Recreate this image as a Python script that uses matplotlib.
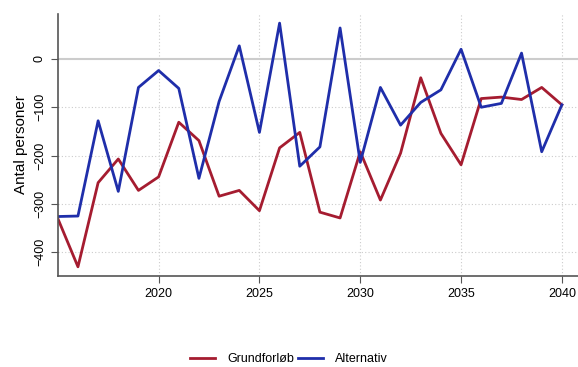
import numpy as np
import matplotlib
matplotlib.use('Agg')
import matplotlib.pyplot as plt

# Data
years = list(range(2015, 2041))
grundforloeb = [-330, -430, -256, -207, -272, -244, -131, -169, -284, -272,
                -314, -184, -152, -317, -329, -192, -292, -195, -39, -154,
                -219, -82, -79, -84, -59, -95]
alternativ = [-326, -325, -128, -274, -59, -24, -61, -247, -88, 27,
              -152, 74, -222, -182, 64, -214, -59, -137, -90, -64,
              20, -100, -92, 12, -192, -95]

red = '#A51C30'
blue = '#1F2EAA'

plt.rcParams['font.family'] = ['Liberation Sans', 'DejaVu Sans']

fig = plt.figure(figsize=(5.78, 3.67), dpi=100)
ax = fig.add_axes([0.100, 0.248, 0.900, 0.714])

# grid
for y in [-100, -200, -300, -400]:
    ax.axhline(y, color='#cccccc', linestyle=(0, (1, 2)), linewidth=0.8, zorder=0)
for x in [2020, 2025, 2030, 2035, 2040]:
    ax.axvline(x, color='#cccccc', linestyle=(0, (1, 2)), linewidth=0.8, zorder=0)
ax.axhline(0, color='#cccccc', linewidth=1.5, zorder=0)

ax.plot(years, grundforloeb, color=red, linewidth=2.0, label='Grundforløb')
ax.plot(years, alternativ, color=blue, linewidth=2.0, label='Alternativ')

ax.set_xlim(2015, 2040.8)
ax.set_ylim(-449, 93)
ax.set_xticks([2020, 2025, 2030, 2035, 2040])
ax.set_yticks([0, -100, -200, -300, -400])
ax.tick_params(axis='y', labelrotation=90, labelsize=9, color='#555555', length=5)
ax.tick_params(axis='x', labelsize=9, color='#555555', length=5)
for lab in ax.get_yticklabels():
    lab.set_va('center')
ax.set_ylabel('Antal personer', fontsize=11)

for s in ['top', 'right']:
    ax.spines[s].set_visible(False)
for s in ['left', 'bottom']:
    ax.spines[s].set_color('#555555')
    ax.spines[s].set_linewidth(1.2)

fig.legend(loc='center', bbox_to_anchor=(0.5, 0.022), ncol=2, frameon=False,
           fontsize=9, handlelength=2.0, columnspacing=0.3, handletextpad=1.0)

fig.savefig('out.png', dpi=100)
